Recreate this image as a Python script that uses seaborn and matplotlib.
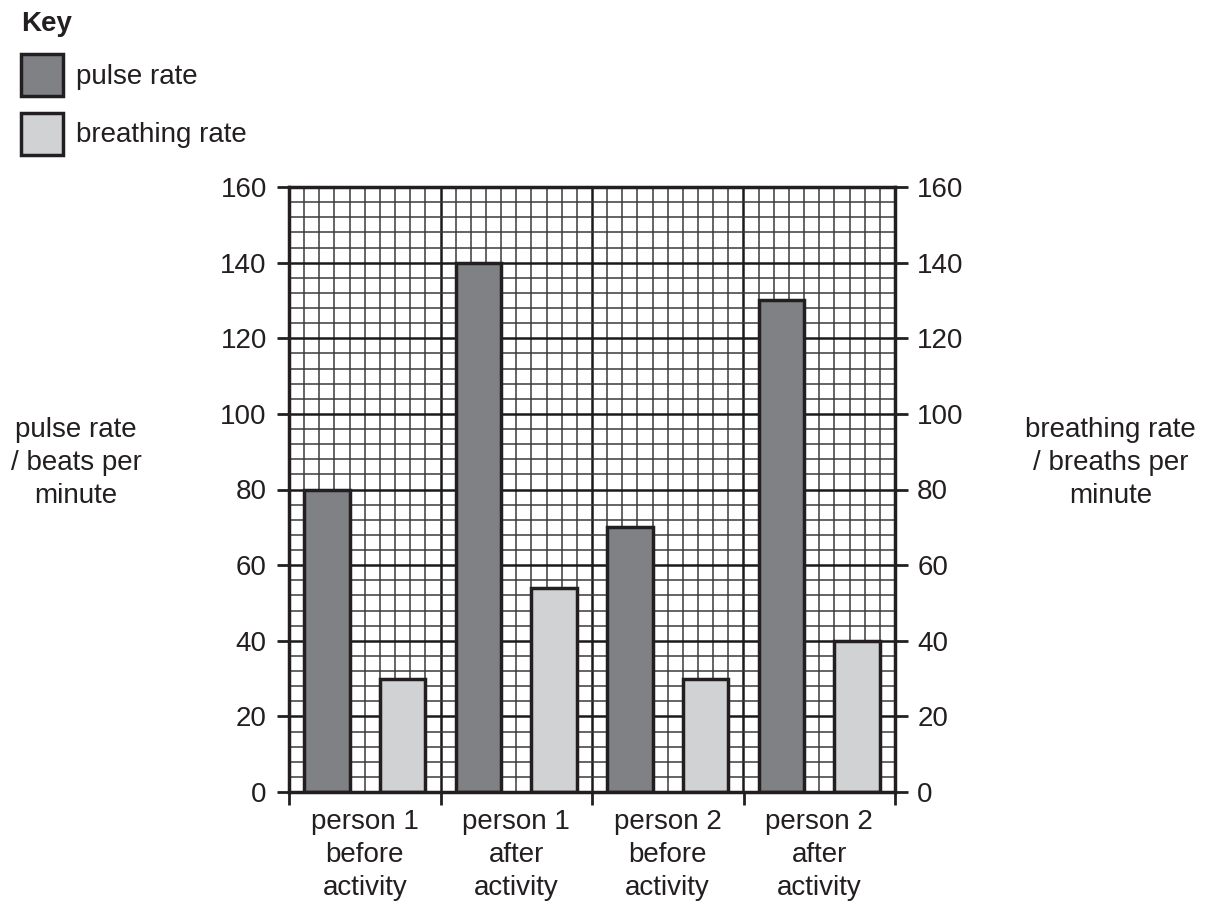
import numpy as np
import pandas as pd
import matplotlib
matplotlib.use("Agg")
import matplotlib.pyplot as plt
import seaborn as sns

conditions = ["person 1\nbefore\nactivity", "person 1\nafter\nactivity",
              "person 2\nbefore\nactivity", "person 2\nafter\nactivity"]
pulse_rate = [80, 140, 70, 130]
breathing_rate = [30, 54, 30, 40]
y_ticks = [0, 20, 40, 60, 80, 100, 120, 140, 160]

df = pd.DataFrame({
    "condition": conditions * 2,
    "rate": pulse_rate + breathing_rate,
    "measure": ["pulse rate"] * 4 + ["breathing rate"] * 4,
})

sns.set_style("white")
plt.rcParams["font.family"] = ["Liberation Sans", "DejaVu Sans"]
ink = "#231f20"
plt.rcParams["text.color"] = ink
fs = 20

fig = plt.figure(figsize=(12.19, 9.07), dpi=100)
ax = fig.add_axes([289 / 1219, 1 - 792 / 907, 606 / 1219, 605 / 907])

# graph paper grid
for xv in np.arange(-0.5, 3.51, 0.1):
    major = abs((xv + 0.5) - round(xv + 0.5)) < 1e-6
    ax.axvline(xv, color="#1a1a1a" if major else "#3a3a3a",
               lw=1.8 if major else 1.1, zorder=0)
for yv in np.arange(0, 161, 4):
    major = yv % 20 == 0
    ax.axhline(yv, color="#1a1a1a" if major else "#3a3a3a",
               lw=1.8 if major else 1.1, zorder=0)

sns.barplot(data=df, x="condition", y="rate", hue="measure",
            palette=["#808185", "#d1d2d4"], width=1.0, gap=0.4,
            edgecolor=ink, linewidth=2.5, saturation=1, ax=ax, zorder=2)

ax.set_xlim(-0.5, 3.5)
ax.set_ylim(0, 160)
ax.set_yticks(y_ticks)
ax.set_xticks(range(len(conditions)))
ax.set_xticklabels(conditions, linespacing=1.35)
ax.set_xlabel("")
ax.set_ylabel("pulse rate\n/ beats per\nminute", fontsize=fs, rotation=0,
              ha="center", va="center", linespacing=1.35, color=ink)
ax.yaxis.set_label_coords(-0.3515, 0.544)
ax.tick_params(axis="y", length=9, width=2, pad=7, labelsize=fs,
               colors=ink, left=True)
ax.tick_params(axis="x", which="major", length=0, pad=12, labelsize=fs,
               colors=ink)
ax.set_xticks(np.arange(-0.5, 3.6, 1.0), minor=True)
ax.tick_params(axis="x", which="minor", length=9, width=2, color=ink,
               bottom=True)
for sp in ax.spines.values():
    sp.set_visible(True)
    sp.set_linewidth(2.5)
    sp.set_color(ink)

ax2 = ax.twinx()
ax2.set_ylim(0, 160)
ax2.set_yticks(y_ticks)
ax2.tick_params(axis="y", length=9, width=2, pad=7, labelsize=fs,
                colors=ink, right=True)
ax2.set_ylabel("breathing rate\n/ breaths per\nminute", fontsize=fs,
               rotation=0, ha="center", va="center", linespacing=1.35,
               color=ink)
ax2.yaxis.set_label_coords(1.356, 0.544)
for sp in ax2.spines.values():
    sp.set_visible(False)

# key
handles, labels = ax.get_legend_handles_labels()
ax.get_legend().remove()
leg = fig.legend(handles, labels, title="Key", loc="upper left",
                 bbox_to_anchor=(0.0057, 1.003), frameon=False, fontsize=fs,
                 handlelength=1.5, handleheight=1.95, handletextpad=0.5,
                 labelspacing=0.6, borderaxespad=0.3, borderpad=0.2,
                 title_fontproperties={"weight": "bold", "size": fs})
leg._legend_box.align = "left"

fig.savefig("out.png", dpi=100)
